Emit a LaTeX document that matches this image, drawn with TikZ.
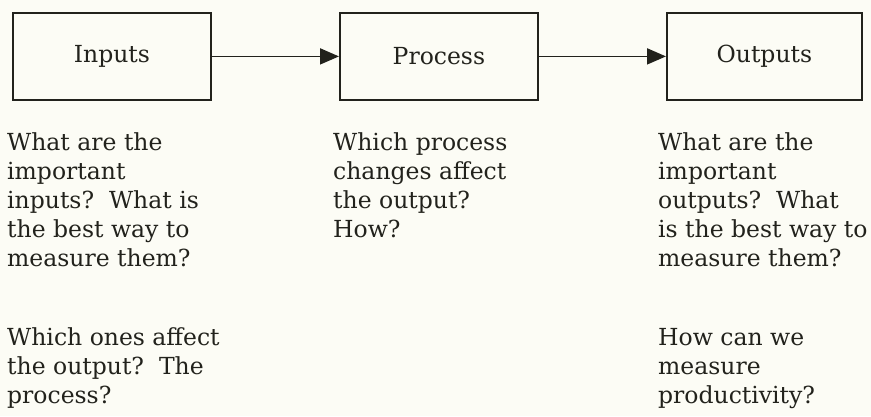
\documentclass[tikz,border=0pt]{standalone}
\usepackage{fontspec}
\setmainfont{DejaVu Serif}
\usetikzlibrary{arrows.meta}
\definecolor{bgc}{RGB}{252,252,245}
\definecolor{ink}{RGB}{34,34,28}
\begin{document}
\begin{tikzpicture}[x=1pt,y=-1pt,
  box/.style={draw=ink,line width=1.8pt,minimum width=198pt,minimum height=87pt,anchor=north west,inner sep=0pt,font=\fontsize{23.5}{29}\selectfont,text=ink},
  flow/.style={draw=ink,line width=1.8pt,-{Triangle[length=19pt,width=16pt]}},
  note/.style={anchor=base west,align=left,inner sep=0pt,font=\fontsize{23.5}{29}\selectfont,text=ink}]
\fill[bgc] (0,0) rectangle (871,416);
\useasboundingbox (0,0) rectangle (871,416);
\node[box] (in) at (12,12) {Inputs};
\node[box] (pr) at (339,12) {Process};
\node[box,minimum width=195pt] (out) at (666,12) {Outputs};
\draw[flow] (in.east) -- (pr.west);
\draw[flow] (pr.east) -- (out.west);
\node[note] (q1) at (7,266) {What are the\\important\\inputs?\ \ What is\\the best way to\\measure them?};
\node[note] (q2) at (7,403) {Which ones affect\\the output?\ \ The\\process?};
\node[note] (q3) at (333,237) {Which process\\changes affect\\the output?\\How?};
\node[note] (q4) at (658,266) {What are the\\important\\outputs?\ \ What\\is the best way to\\measure them?};
\node[note] (q5) at (658,403) {How can we\\measure\\productivity?};
\end{tikzpicture}
\end{document}
